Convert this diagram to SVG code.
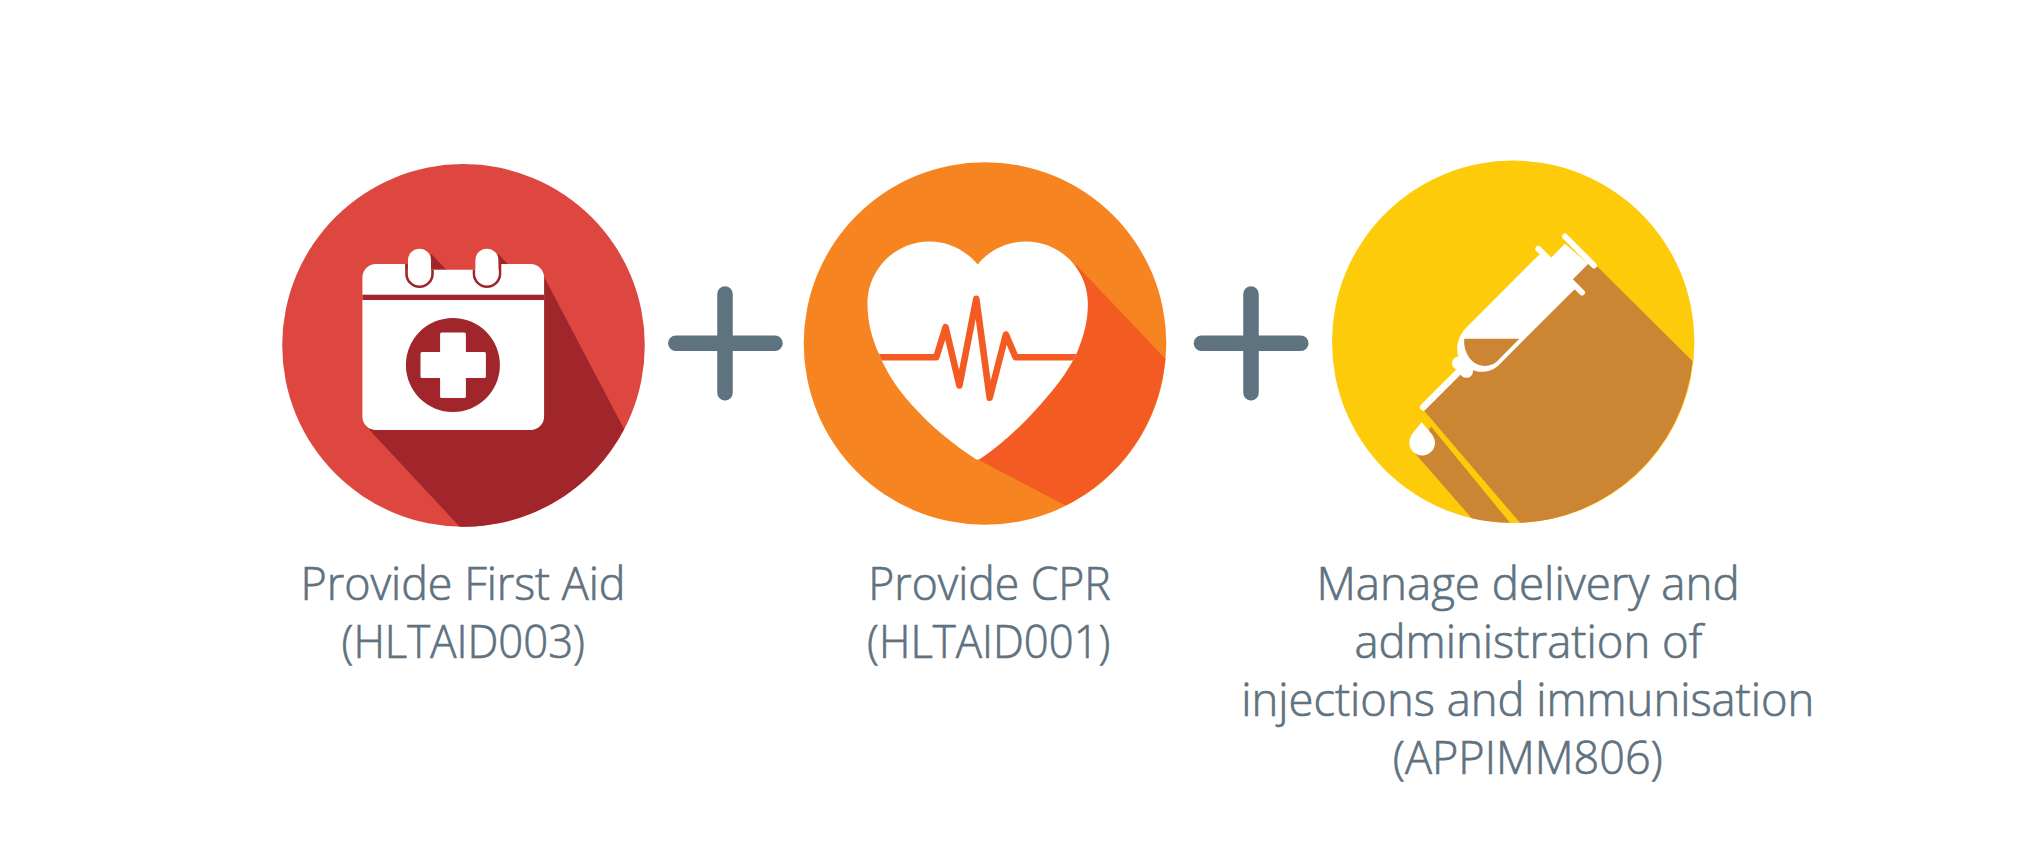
<svg xmlns="http://www.w3.org/2000/svg" width="2021" height="862" viewBox="0 0 2021 862">
<style>
.lbl{font-family:"Open Sans","Noto Sans",sans-serif;font-weight:300;font-size:46px;fill:#5f7280;stroke:#5f7280;stroke-width:.7px}
.plus{fill:none;stroke:#5f7280;stroke-width:15.5;stroke-linecap:round}
.w{fill:#fff}
.red{fill:#a0262b}
.or{fill:#f35b22}
.br{fill:#cc8533}
</style>
<defs>
<path id="heart" d="M977.7,264C965,249 948,241 929.5,241C895,241 867.5,269 867.5,303.3C867.5,322 872,338 878.8,353.3C887,373 898,389 910.5,403C930,425 953,444 975.5,458.5Q977.7,459.5 980,458.5C1002,444 1022,425 1041.4,403C1054,389 1067,373 1076.5,353.3C1083,338 1087.9,322 1087.9,303.3C1087.9,269 1060.4,241 1025.9,241C1007,241 990,249 977.7,264Z"/>
<clipPath id="hc"><use href="#heart"/></clipPath>
</defs>
<rect width="2021" height="862" fill="#fff"/>
<g id="connectors">
<path class="plus" d="M675.8,343.2H775M725,294V392.7"/>
<path class="plus" d="M1201.4,343.2H1300.8M1251,294V392.7"/>
</g>
<g id="node-first-aid">
<g transform="translate(0 .7)">
<circle cx="463.5" cy="344.7" r="181.3" fill="#de473f"/>
<path class="red" d="M544,276L624,428.3A181.3,181.3 0 0 1 459.7,526L369.5,429.3Z"/>
<path class="red" d="M431,253L446.5,269H431ZM498,253L508,263.5H498Z"/>
<path class="w" d="M376,263.3H405.3V269H501V263.3H530.5A13.6,13.6 0 0 1 544.1,277V415.7A13.6,13.6 0 0 1 530.5,429.3H376A13.6,13.6 0 0 1 362.4,415.7V277A13.6,13.6 0 0 1 376,263.3Z"/>
<path d="M406.5,263.3V273a13,13 0 0 0 26,0V269M474,269V273a13,13 0 0 0 26,0V263.3" fill="none" stroke="#a0262b" stroke-width="2.6"/>
<rect class="w" x="408" y="248" width="23" height="36.3" rx="11.5"/>
<rect class="w" x="475.4" y="248" width="23" height="36.3" rx="11.5"/>
<rect class="red" x="362.4" y="294" width="181.7" height="5.3"/>
<circle class="red" cx="452.9" cy="364.3" r="47"/>
<path class="w" d="M440.1,333.2q0,-1.5 1.5,-1.5h22.8q1.5,0 1.5,1.5v18.1h18.5q1.5,0 1.5,1.5v23q0,1.5 -1.5,1.5h-18.5v18.5q0,1.5 -1.5,1.5h-22.8q-1.5,0 -1.5,-1.5v-18.5h-18.1q-1.5,0 -1.5,-1.5v-23q0,-1.5 1.5,-1.5h18.1Z"/>
</g>
<text class="lbl" x="300.5" y="600" textLength="325" lengthAdjust="spacingAndGlyphs">Provide First Aid</text>
<text class="lbl" x="341.5" y="658" textLength="243.5" lengthAdjust="spacingAndGlyphs">(HLTAID003)</text>
</g>
<g id="node-cpr">
<g transform="translate(0 .5)">
<circle cx="985" cy="343" r="181.3" fill="#f68420"/>
<path class="or" d="M1075.8,264L1165.3,358.3A181.3,181.3 0 0 1 1065.5,505L977.7,459Z"/>
<use href="#heart" class="w"/>
<polyline clip-path="url(#hc)" points="860,356.7 936.3,356.7 945.6,326.7 959.4,385 976.3,298.3 989.7,397.3 1005.9,334 1015.6,356.7 1095,356.7" fill="none" stroke="#f35b22" stroke-width="6.6" stroke-linejoin="round"/>
</g>
<text class="lbl" x="868.3" y="600" textLength="242.5" lengthAdjust="spacingAndGlyphs">Provide CPR</text>
<text class="lbl" x="867.1" y="658" textLength="243.4" lengthAdjust="spacingAndGlyphs">(HLTAID001)</text>
</g>
<g id="node-injections">
<g transform="translate(0 .5)">
<circle cx="1513.2" cy="341.3" r="181.2" fill="#fecb0a"/>
<g transform="translate(1320 140) scale(.33333)">
<path class="br" d="M822,368L1118,662A543.6,543.6 0 0 1 600,1147L310,808L310,800L445,670L600,600L760,380Z"/>
<path class="br" d="M333,858L570,1147A543.6,543.6 0 0 1 455,1133L285,938Z"/>
<path class="w" d="M655,345L440,560C405,595 405,645 425,665C445,690 500,715 545,665L770,440L668,340Z"/>
<path class="w" d="M685,360L735,310L805,370L750,425Z"/>
<circle class="w" cx="415" cy="668" r="19"/>
<circle class="w" cx="439" cy="692" r="20"/>
<path d="M310,800L415,695" fill="none" stroke="#fff" stroke-width="20" stroke-linecap="round"/>
<path d="M655,325L786,456M735,288L822,375" fill="none" stroke="#fff" stroke-width="18" stroke-linecap="round"/>
<path class="br" d="M433,595H598L540,653C520,680 480,685 455,660C440,645 430,620 433,595Z"/>
<path class="w" d="M305,845C285,870 268,885 268,907A38.5,38 0 0 0 345,907C345,885 325,870 305,845Z"/>
</g>
</g>
<text class="lbl" x="1316.4" y="600" textLength="423.3" lengthAdjust="spacingAndGlyphs">Manage delivery and</text>
<text class="lbl" x="1354.4" y="658" textLength="348" lengthAdjust="spacingAndGlyphs">administration of</text>
<text class="lbl" x="1241.2" y="715.6" textLength="573.2" lengthAdjust="spacingAndGlyphs">injections and immunisation</text>
<text class="lbl" x="1392.8" y="773.6" textLength="270" lengthAdjust="spacingAndGlyphs">(APPIMM806)</text>
</g>
</svg>
